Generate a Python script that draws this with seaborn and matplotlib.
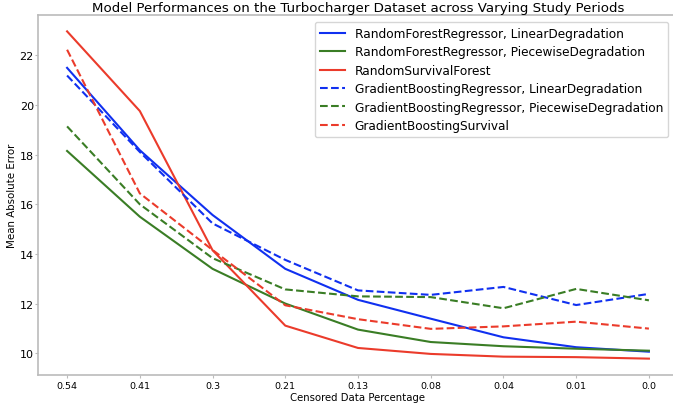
import pandas as pd
import matplotlib
matplotlib.use("Agg")
import matplotlib.pyplot as plt
import seaborn as sns

# Censored data percentages (x axis, categorical order)
censored = ["0.54", "0.41", "0.3", "0.21", "0.13", "0.08", "0.04", "0.01", "0.0"]

# Mean absolute error for each model
rf_linear = [21.50, 18.18, 15.57, 13.40, 12.15, 11.39, 10.64, 10.24, 10.06]
rf_piecewise = [18.15, 15.50, 13.40, 12.00, 10.95, 10.45, 10.28, 10.18, 10.10]
rsf = [22.97, 19.76, 14.15, 11.11, 10.21, 9.97, 9.86, 9.84, 9.78]
gbr_linear = [21.19, 18.11, 15.23, 13.76, 12.53, 12.35, 12.67, 11.94, 12.39]
gbr_piecewise = [19.14, 16.00, 13.83, 12.57, 12.29, 12.26, 11.81, 12.59, 12.13]
gbs = [22.23, 16.44, 14.16, 11.93, 11.37, 10.98, 11.08, 11.27, 10.99]

series = [
    ("RandomForestRegressor, LinearDegradation", rf_linear, "#1030f0", "-"),
    ("RandomForestRegressor, PiecewiseDegradation", rf_piecewise, "#3a7d25", "-"),
    ("RandomSurvivalForest", rsf, "#eb3b2b", "-"),
    ("GradientBoostingRegressor, LinearDegradation", gbr_linear, "#1030f0", "--"),
    ("GradientBoostingRegressor, PiecewiseDegradation", gbr_piecewise, "#3a7d25", "--"),
    ("GradientBoostingSurvival", gbs, "#eb3b2b", "--"),
]

fig = plt.figure(figsize=(6.73, 4.06), dpi=100)
ax = fig.add_axes([38 / 673, 30 / 406, 640 / 673, 360 / 406])

for name, values, color, ls in series:
    df = pd.DataFrame({"Censored": censored, "MAE": values})
    sns.lineplot(data=df, x="Censored", y="MAE", ax=ax, color=color,
                 linestyle=ls, linewidth=1.5, label=name, sort=False)

ax.set_title("Model Performances on the Turbocharger Dataset across Varying Study Periods",
             fontsize=9.6, pad=3)
ax.set_xlabel("Censored Data Percentage", fontsize=7.3, labelpad=2)
ax.set_ylabel("Mean Absolute Error", fontsize=7.4, labelpad=2)
ax.set_yticks([10, 12, 14, 16, 18, 20, 22])
ax.tick_params(axis="x", labelsize=6.8, length=2, color="#bbbbbb", pad=2)
ax.tick_params(axis="y", labelsize=8, length=2, color="#bbbbbb", pad=1)

for side in ["left", "bottom", "top", "right"]:
    ax.spines[side].set_color("#bbbbbb")
    ax.spines[side].set_linewidth(1.2)

ax.legend(loc="upper right", fontsize=8.75, frameon=True, handlelength=2.1,
          labelspacing=0.45, borderaxespad=0,
          bbox_to_anchor=(668 / 673, 1 - 23 / 406), bbox_transform=fig.transFigure)

fig.savefig("out.png", dpi=100)
plt.close(fig)
